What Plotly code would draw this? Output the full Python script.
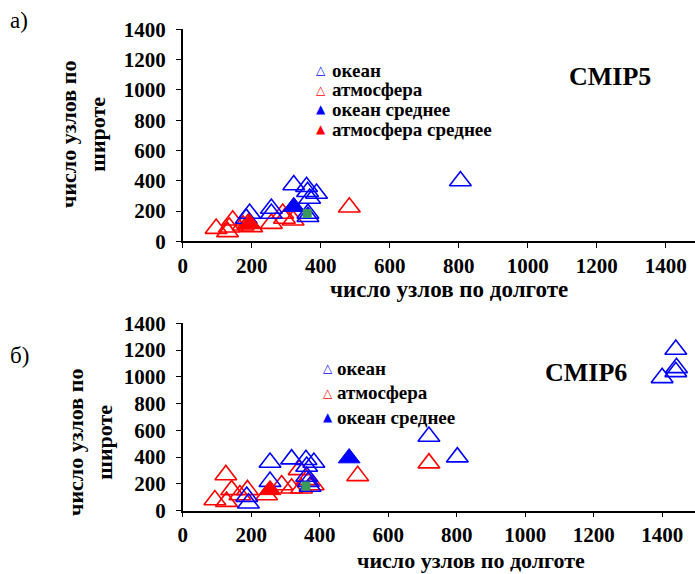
import plotly.graph_objects as go

# ---------------- data (CMIP5, panel a) ----------------
a_ocean_x = [322, 359, 362, 388, 368, 257, 257, 194, 184, 363, 363, 805]
a_ocean_y = [372, 360, 327, 316, 283, 217, 184, 184, 151, 184, 162, 398]
a_atm_x = [483, 97, 130, 145, 135, 175, 190, 200, 257, 290, 295, 320]
a_atm_y = [225, 84, 62, 139, 93, 106, 117, 95, 117, 184, 151, 139]
a_ocean_mean_x = [322]
a_ocean_mean_y = [228]
a_atm_mean_x = [194]
a_atm_mean_y = [117]
a_green_x = [361]
a_green_y = [184]

# ---------------- data (CMIP6, panel b) ----------------
b_ocean_x = [255, 318, 360, 383, 255, 362, 362, 367, 372, 187, 192, 719, 802, 1440, 1400, 1442, 1440]
b_ocean_y = [359, 384, 379, 359, 216, 329, 254, 216, 179, 104, 54, 553, 399, 1204, 992, 1067, 1037]
b_atm_x = [719, 511, 126, 94, 143, 128, 167, 189, 245, 289, 318, 340, 347, 381, 362]
b_atm_y = [354, 259, 266, 79, 154, 66, 116, 154, 116, 191, 166, 304, 166, 191, 229]
b_ocean_mean_x = [486]
b_ocean_mean_y = [392]
b_atm_mean_x = [255]
b_atm_mean_y = [154]
b_green_x = [360]
b_green_y = [184]

tick_vals = [0, 200, 400, 600, 800, 1000, 1200, 1400]
tick_text = ["0", "200", "400", "600", "800", "1000", "1200", "1400"]

legend_a = [("△", "океан", "#0000FF"), ("△", "атмосфера", "#FF0000"),
            ("▲", "океан среднее", "#0000FF"), ("▲", "атмосфера среднее", "#FF0000")]
legend_b = [("△", "океан", "#0000FF"), ("△", "атмосфера", "#FF0000"),
            ("▲", "океан среднее", "#0000FF")]

BLUE = "#0000FF"
RED = "#FF0000"
GREEN = "#3A9A5C"
FONT = "Liberation Serif"
MS = 19

fig = go.Figure()


def add_panel(xa, ya, ox, oy, ax_, ay_, omx, omy, amx, amy, gx, gy):
    fig.add_trace(go.Scatter(x=ax_, y=ay_, mode="markers", xaxis=xa, yaxis=ya, showlegend=False,
                             marker=dict(symbol="triangle-up-open", size=MS, color=RED,
                                         line=dict(width=1.6, color=RED))))
    fig.add_trace(go.Scatter(x=ox, y=oy, mode="markers", xaxis=xa, yaxis=ya, showlegend=False,
                             marker=dict(symbol="triangle-up-open", size=MS, color=BLUE,
                                         line=dict(width=1.6, color=BLUE))))
    fig.add_trace(go.Scatter(x=amx, y=amy, mode="markers", xaxis=xa, yaxis=ya, showlegend=False,
                             marker=dict(symbol="triangle-up", size=MS, color=RED,
                                         line=dict(width=1, color=RED))))
    fig.add_trace(go.Scatter(x=omx, y=omy, mode="markers", xaxis=xa, yaxis=ya, showlegend=False,
                             marker=dict(symbol="triangle-up", size=MS, color=BLUE,
                                         line=dict(width=1, color=BLUE))))
    fig.add_trace(go.Scatter(x=gx, y=gy, mode="markers", xaxis=xa, yaxis=ya, showlegend=False,
                             marker=dict(symbol="square", size=9, color=GREEN)))


add_panel("x", "y", a_ocean_x, a_ocean_y, a_atm_x, a_atm_y,
          a_ocean_mean_x, a_ocean_mean_y, a_atm_mean_x, a_atm_mean_y, a_green_x, a_green_y)
add_panel("x2", "y2", b_ocean_x, b_ocean_y, b_atm_x, b_atm_y,
          b_ocean_mean_x, b_ocean_mean_y, b_atm_mean_x, b_atm_mean_y, b_green_x, b_green_y)

W, H = 695, 574


def px_x(p):
    return p / W


def px_y(p):
    return 1 - p / H


axis_common = dict(showline=True, linecolor="black", linewidth=1.5, ticks="outside", ticklen=5,
                   tickwidth=1, tickcolor="black", showgrid=False, zeroline=False, automargin=False,
                   tickvals=tick_vals, ticktext=tick_text,
                   tickfont=dict(family=FONT, size=21, color="black", weight="bold"))

fig.update_layout(
    width=W, height=H, margin=dict(l=0, r=0, t=0, b=0, autoexpand=False),
    paper_bgcolor="white", plot_bgcolor="white", showlegend=False,
    xaxis=dict(domain=[px_x(182.7), 1.0], range=[0, 1485], anchor="y", **axis_common),
    yaxis=dict(domain=[px_y(241.3), px_y(29.3)], range=[0, 1400], anchor="x", ticklabelstandoff=6,
               **axis_common),
    xaxis2=dict(domain=[px_x(182.7), 1.0], range=[0, 1496], anchor="y2", **axis_common),
    yaxis2=dict(domain=[px_y(510.5), px_y(323.3)], range=[0, 1400], anchor="x2", ticklabelstandoff=6,
                **axis_common),
)

ann = [
    dict(text="а)", x=px_x(8), y=px_y(20), xanchor="left", yanchor="middle",
         font=dict(family=FONT, size=23, color="black")),
    dict(text="б)", x=px_x(8), y=px_y(355), xanchor="left", yanchor="middle",
         font=dict(family=FONT, size=23, color="black")),
    dict(text="<b>CMIP5</b>", x=px_x(610), y=px_y(76), xanchor="center", yanchor="middle",
         font=dict(family=FONT, size=26, color="black")),
    dict(text="<b>CMIP6</b>", x=px_x(586), y=px_y(372), xanchor="center", yanchor="middle",
         font=dict(family=FONT, size=26, color="black")),
    dict(text="<b>число узлов по долготе</b>", x=px_x(449), y=px_y(289), xanchor="center",
         yanchor="middle", font=dict(family=FONT, size=23, color="black")),
    dict(text="<b>число узлов по долготе</b>", x=px_x(471), y=px_y(560), xanchor="center",
         yanchor="middle", font=dict(family=FONT, size=22, color="black")),
    dict(text="<b>число узлов по<br>широте</b>", x=px_x(83), y=px_y(135), xanchor="center",
         yanchor="middle", textangle=-90, font=dict(family=FONT, size=22, color="black")),
    dict(text="<b>число узлов по<br>широте</b>", x=px_x(90), y=px_y(443), xanchor="center",
         yanchor="middle", textangle=-90, font=dict(family=FONT, size=22, color="black")),
]


def add_legend(items, sym_x, text_x, y0, dy):
    for i, (sym, label, col) in enumerate(items):
        yy = y0 + i * dy
        ann.append(dict(text=sym, x=px_x(sym_x), y=px_y(yy), xanchor="center", yanchor="middle",
                        font=dict(family="DejaVu Sans", size=12, color=col)))
        ann.append(dict(text="<b>%s</b>" % label, x=px_x(text_x), y=px_y(yy), xanchor="left",
                        yanchor="middle", font=dict(family=FONT, size=19, color="black")))


add_legend(legend_a, 321, 330, 70, 19.7)
add_legend(legend_b, 328, 335, 368, 24.5)

for a in ann:
    fig.add_annotation(xref="paper", yref="paper", showarrow=False, **a)

fig.write_html("out.html")
